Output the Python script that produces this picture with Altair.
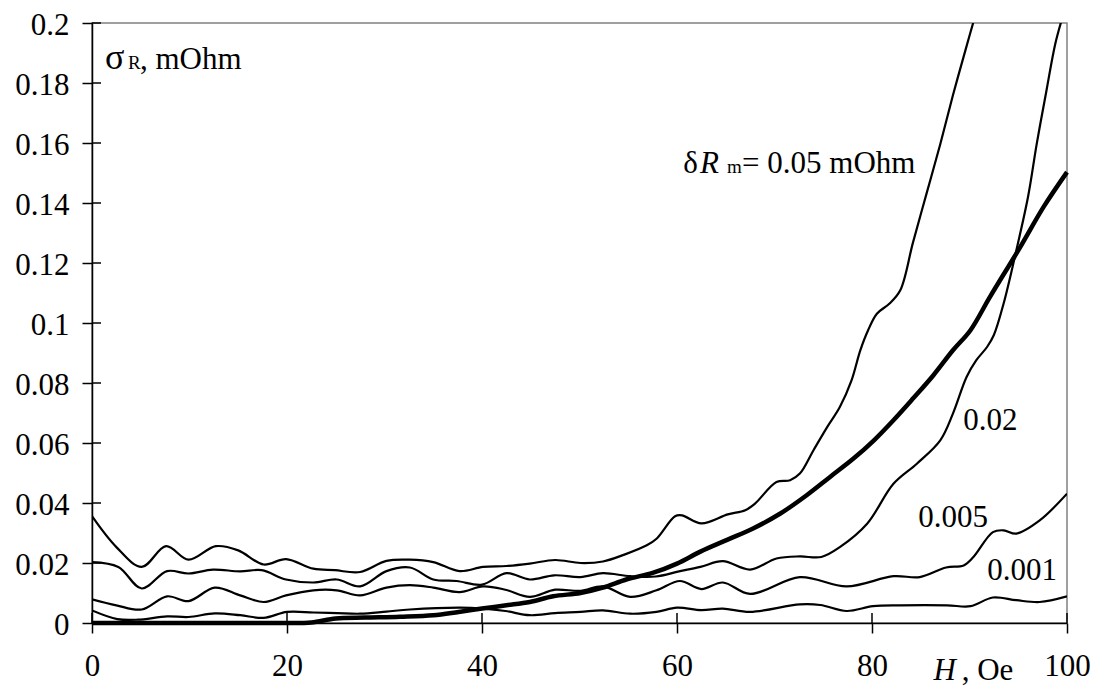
import altair as alt
import pandas as pd

# --- data ---
H_A = [0, 2.5, 5.1, 7.6, 9.9, 12.7, 15, 17.6, 19.9, 22.7, 24.9, 27.5, 30.2, 32.6, 35, 37.7, 40.1, 42.5, 44.9,
       47.5, 50.1, 52.4, 54.6, 56.9, 57.9, 59.8, 60.5, 62.5, 65.2, 67, 68, 70.2, 71.6, 72.6, 74, 75.4, 76.7,
       77.9, 78.8, 79.6, 80.5, 81.8, 82.9, 84.2, 85.6, 87, 88.3, 89.7, 90.6]
S_A = [0.0356, 0.0253, 0.0187, 0.0256, 0.0211, 0.0256, 0.0242, 0.0195, 0.0213, 0.0181, 0.0176, 0.017, 0.0207,
       0.0211, 0.0203, 0.0173, 0.0187, 0.019, 0.0198, 0.021, 0.02, 0.0205, 0.0228, 0.0259, 0.0281, 0.0356,
       0.0359, 0.0332, 0.0362, 0.0376, 0.0398, 0.047, 0.0476, 0.0498, 0.0576, 0.0653, 0.072, 0.0809, 0.0909,
       0.0976, 0.1031, 0.1065, 0.1109, 0.1268, 0.1432, 0.1596, 0.1759, 0.1923, 0.2026]

H_B = [0, 2.7, 5.1, 7.7, 9.9, 12.4, 15.2, 17.4, 19.9, 22.7, 25.1, 27.5, 30.2, 32.6, 35, 37.4, 40, 42.5, 44.9,
       47.4, 50.1, 52.4, 55.2, 57.8, 60.2, 62.4, 64.7, 67.5, 70.2, 72.6, 74.8, 76.7, 79.5, 82.2, 84.6, 87,
       88.3, 89.7, 90.7, 91.8, 92.5, 93.5, 94.8, 96, 96.9, 97.9, 98.8, 99.6]
S_B = [0.0203, 0.0187, 0.0115, 0.0173, 0.0165, 0.0178, 0.0172, 0.0176, 0.0145, 0.0135, 0.0145, 0.0122, 0.0173,
       0.0185, 0.0145, 0.014, 0.0128, 0.0166, 0.0145, 0.0159, 0.0153, 0.0166, 0.0156, 0.0155, 0.0172, 0.0187,
       0.0206, 0.0178, 0.0215, 0.0222, 0.022, 0.0253, 0.0331, 0.0464, 0.0531, 0.0609, 0.0698, 0.082, 0.0876,
       0.092, 0.096, 0.1065, 0.1242, 0.142, 0.1598, 0.1776, 0.1931, 0.2026]

H_C = [0, 2.5, 5.1, 7.7, 9.9, 12.6, 15.2, 17.6, 19.9, 22.7, 25.1, 27.5, 30.2, 32.6, 35, 37.7, 40.1, 42.4, 44.9,
       47.5, 50.1, 52.4, 55.2, 57.9, 60.3, 62.5, 64.7, 67.5, 72.6, 77.4, 82.2, 84.9, 87.6, 89.4, 90.4, 92.4,
       93.5, 94.8, 97.2, 100]
S_C = [0.0079, 0.0059, 0.0045, 0.0089, 0.0073, 0.0118, 0.0092, 0.007, 0.0092, 0.0109, 0.0109, 0.0092, 0.0118,
       0.0126, 0.0118, 0.0103, 0.0122, 0.0111, 0.0087, 0.0111, 0.0107, 0.0122, 0.0087, 0.0109, 0.014, 0.0113,
       0.0135, 0.0097, 0.0153, 0.0122, 0.0156, 0.0153, 0.0185, 0.0192, 0.022, 0.0303, 0.0309, 0.0298, 0.0342,
       0.0431]

H_D = [0, 2.6, 4.7, 7.7, 9.9, 12.6, 15.2, 17.6, 20, 22.7, 25.1, 27.5, 30.2, 32.6, 37.7, 40.1, 42.4, 44.9, 47.5,
       50.1, 52.4, 55.2, 57.9, 60, 62.5, 64.7, 67.5, 72.6, 74.7, 77.4, 80.1, 82.9, 87.7, 90.1, 92.4, 94.8,
       97.2, 100]
S_D = [0.0042, 0.0013, 0.0011, 0.0022, 0.002, 0.0032, 0.0026, 0.0017, 0.0037, 0.0035, 0.0033, 0.0031, 0.0038,
       0.0045, 0.0051, 0.0048, 0.004, 0.0026, 0.0033, 0.0037, 0.0042, 0.0031, 0.0037, 0.0051, 0.0043, 0.0048,
       0.0037, 0.0062, 0.006, 0.004, 0.0056, 0.0059, 0.0059, 0.0056, 0.0085, 0.0076, 0.007, 0.0089]

H_E = [0, 5, 10, 15, 20, 22.5, 25, 28, 31.6, 35, 37.6, 40, 42.5, 44.9, 47.3, 50.1, 52.4, 54.8, 57.5, 60, 62.4,
       65.2, 67.8, 70.6, 73.3, 75.7, 78.1, 80.2, 82.2, 84.2, 86.3, 88.3, 90.1, 92.1, 95.2, 97.6, 100]
S_E = [0, 0, 0, 0, 0, 0.0002, 0.0015, 0.0018, 0.0021, 0.0026, 0.0037, 0.0048, 0.0059, 0.007, 0.0089, 0.01,
       0.0118, 0.0145, 0.0167, 0.0198, 0.0238, 0.0278, 0.0315, 0.0365, 0.0426, 0.0487, 0.0548, 0.0609, 0.0676,
       0.0748, 0.0826, 0.0909, 0.0976, 0.1087, 0.1253, 0.1387, 0.1503]

x_ticks = [0, 20, 40, 60, 80, 100]
y_ticks = [0, 0.02, 0.04, 0.06, 0.08, 0.1, 0.12, 0.14, 0.16, 0.18, 0.2]

# annotations (text, H, sigma)
ann_normal = [(", mOhm", 4.92, 0.1846), ("δ", 60.65, 0.1499),
              ("= 0.05 mOhm", 66.67, 0.1499), ("0.02", 89.36, 0.0642), ("0.005", 84.75, 0.032),
              ("0.001", 91.83, 0.0142), (", Oe", 89.2, -0.0191)]
ann_sigma = [("σ", 1.33, 0.1846)]
ann_small = [("R", 3.69, 0.1846), ("m", 65.13, 0.1499)]
ann_italic = [("R", 62.36, 0.1499), ("H", 86.3, -0.0191)]

# --- build tables ---
rows = []
for name, xs, ys in [("0.05", H_A, S_A), ("0.02", H_B, S_B), ("0.005", H_C, S_C), ("0.001", H_D, S_D)]:
    for xv, yv in zip(xs, ys):
        rows.append({"series": name, "H": xv, "sigma": yv})
thin_df = pd.DataFrame(rows)
thick_df = pd.DataFrame({"H": H_E, "sigma": S_E})

FONT = "Times New Roman, Liberation Serif, DejaVu Serif, serif"
xscale = alt.Scale(domain=[0, 100], nice=False, zero=False)
yscale = alt.Scale(domain=[0, 0.2], nice=False, zero=False)
xaxis = alt.Axis(values=x_ticks, title=None, grid=False, tickSize=10, labelPadding=18,
                 labelFont=FONT, labelFontSize=31, labelColor="black", domainColor="black",
                 tickColor="black", domainWidth=1.5, tickWidth=1.5, labelFlush=False, labelOverlap=False)
yaxis = alt.Axis(values=y_ticks, title=None, grid=False, tickSize=10, labelPadding=13, format="~g",
                 labelOffset=2,
                 labelFont=FONT, labelFontSize=31, labelColor="black", domainColor="black",
                 tickColor="black", domainWidth=1.5, tickWidth=1.5, labelFlush=False, labelOverlap=False)

X = alt.X("H:Q", scale=xscale, axis=xaxis)
Y = alt.Y("sigma:Q", scale=yscale, axis=yaxis)

thin = alt.Chart(thin_df).mark_line(color="black", strokeWidth=2.2, interpolate="catmull-rom", clip=True).encode(
    x=X, y=Y, detail="series:N")
thick = alt.Chart(thick_df).mark_line(color="black", strokeWidth=4.5, interpolate="catmull-rom").encode(x=X, y=Y)

ytick_in = alt.Chart(pd.DataFrame({"sigma": y_ticks})).mark_rule(color="black", strokeWidth=1.5).encode(
    y=Y, x=alt.value(0), x2=alt.value(9))
xtick_in = alt.Chart(pd.DataFrame({"H": x_ticks})).mark_rule(color="black", strokeWidth=1.5).encode(
    x=X, y=alt.value(600), y2=alt.value(590))


def text_layer(items, size, style):
    df = pd.DataFrame({"t": [a[0] for a in items], "H": [a[1] for a in items], "sigma": [a[2] for a in items]})
    return alt.Chart(df).mark_text(align="left", baseline="alphabetic", font=FONT, fontSize=size,
                                   fontStyle=style, color="black").encode(x=X, y=Y, text="t:N")


chart = alt.layer(
    ytick_in, xtick_in, thin, thick,
    text_layer(ann_normal, 31, "normal"),
    text_layer(ann_sigma, 36, "normal"),
    text_layer(ann_small, 19, "normal"),
    text_layer(ann_italic, 31, "italic"),
).properties(
    width=975, height=600,
    autosize=alt.AutoSizeParams(type="none"),
    padding={"left": 84, "top": 15, "right": 24, "bottom": 64},
    background="white",
).configure_view(stroke="#808080", strokeWidth=1.5)

chart.save("out.html", embed_options={"renderer": "svg", "actions": False})
